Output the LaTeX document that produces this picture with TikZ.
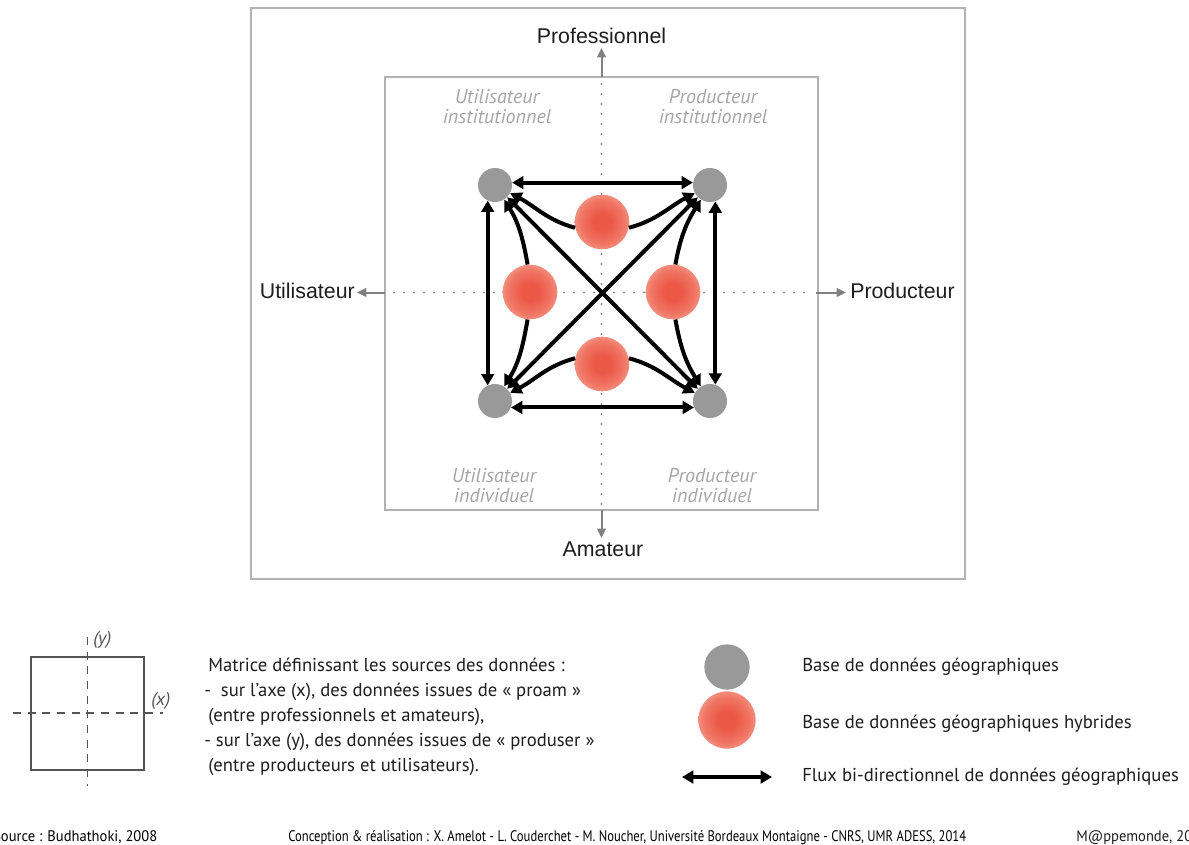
\documentclass[tikz,border=0pt]{standalone}
\usepackage{fontspec}
\setmainfont{PT Sans}
\newfontfamily\arialf{Liberation Sans}
\usetikzlibrary{arrows.meta}
\definecolor{boxgray}{RGB}{178,178,178}
\definecolor{nodegray}{RGB}{153,153,153}
\definecolor{axisgray}{RGB}{128,128,128}
\definecolor{dotgray}{RGB}{140,140,140}
\definecolor{labelgray}{RGB}{165,165,165}
\definecolor{blobc}{RGB}{236,88,70}
\definecolor{blobn}{RGB}{240,118,100}
\definecolor{blobm}{RGB}{246,165,150}
\definecolor{blobo}{RGB}{252,225,220}
\definecolor{textc}{RGB}{30,30,30}
\definecolor{legline}{RGB}{85,85,85}
\pgfdeclareradialshading{blob}{\pgfpoint{0bp}{0bp}}{color(0bp)=(blobc); color(8bp)=(blobc); color(20bp)=(blobn); color(30bp)=(blobm); color(39bp)=(blobo); color(47bp)=(white); color(70bp)=(white)}
\newsavebox\footbox
\newsavebox\footboxl
\newcommand\twoln[2]{\vtop{\baselineskip=15pt\lineskiplimit=-10pt\halign{\hfil##\hfil\cr#1\cr#2\cr}}}
\newcommand\footfont{\fontsize{11.5pt}{13pt}\selectfont}
\begin{document}
\sbox\footbox{\footfont Conception \& réalisation : X. Amelot - L. Couderchet - M. Noucher, Université Bordeaux Montaigne - CNRS, UMR ADESS, 2014}%
\sbox\footboxl{\footfont Source : Budhathoki, 2008}%
\pgfmathsetmacro\footsc{508.5pt/\wd\footbox}%
\pgfmathsetmacro\footscl{123pt/\wd\footboxl}%
\begin{tikzpicture}[x=0.75pt,y=0.75pt,
  frame/.style={draw=boxgray, line width=1.1pt},
  db/.style={circle, fill=nodegray, minimum size=25.5pt, inner sep=0pt},
  hyb/.style={circle, shade, shading=blob, minimum size=41pt, inner sep=0pt},
  tipk/.tip={Triangle[length=8.5pt,width=9.5pt]},
  flux/.style={line width=3pt, tipk-tipk},
  feed/.style={line width=3pt, -tipk},
  axdot/.style={dotgray, line width=1.8pt, line cap=round, dash pattern=on 0pt off 7.5pt},
  axarrow/.style={axisgray, line width=1.5pt, -{Triangle[length=7pt,width=6.5pt]}},
  title/.style={font=\arialf\fontsize{16pt}{18pt}\selectfont, text=textc, inner sep=0pt},
  quad/.style={font=\itshape\fontsize{15pt}{15pt}\selectfont, text=labelgray, inner sep=0pt, anchor=base},
  legtxt/.style={font=\fontsize{14pt}{17pt}\selectfont, text=textc, inner sep=0pt, anchor=base west},
  foot/.style={text=textc, inner sep=0pt, anchor=base west},
  legdash/.style={legline, line width=1pt, dash pattern=on 6pt off 5pt}
]
\path[use as bounding box] (0,0) rectangle (1189,-844);
\clip (0,0) rectangle (1189,-844);
\fill[white] (0,0) rectangle (1189,-844);

% frames
\draw[frame] (251,-8) rectangle (965,-579);
\draw[frame] (385,-77) rectangle (818,-510);

% axes
\draw[axdot] (601.5,-84) -- (601.5,-505);
\draw[axdot] (394,-292.5) -- (812,-292.5);
\coordinate (vt0) at (601.5,-77);
\coordinate (vt1) at (601.5,-48);
\coordinate (vb0) at (601.5,-510);
\coordinate (vb1) at (601.5,-538);
\coordinate (hl0) at (385,-292.5);
\coordinate (hl1) at (357,-292.5);
\coordinate (hr0) at (816,-292.5);
\coordinate (hr1) at (846,-292.5);
\draw[axarrow] (vt0) -- (vt1);
\draw[axarrow] (vb0) -- (vb1);
\draw[axarrow] (hl0) -- (hl1);
\draw[axarrow] (hr0) -- (hr1);

\node[title, anchor=base] (prof) at (601.5,-43.5) {Professionnel};
\node[title, anchor=base] (amat) at (603,-556.5) {Amateur};
\node[title, anchor=base east] (util) at (355,-298) {Utilisateur};
\node[title, anchor=base west] (prod) at (850,-298) {Producteur};

\node[quad] (qtl) at (497,-103) {\twoln{Utilisateur}{institutionnel}};
\node[quad] (qtr) at (713,-103) {\twoln{Producteur}{institutionnel}};
\node[quad] (qbl) at (494,-482) {\twoln{Utilisateur}{individuel}};
\node[quad] (qbr) at (712,-482) {\twoln{Producteur}{individuel}};

% databases
\node[db] (tl) at (495,-185) {};
\node[db] (tr) at (710,-185) {};
\node[db] (bl) at (495,-401) {};
\node[db] (br) at (710,-401) {};
\node[hyb] (tb) at (602,-222) {};
\node[hyb] (lb) at (530,-292) {};
\node[hyb] (rb) at (673,-292) {};
\node[hyb] (bb) at (602,-364) {};

% flows
\draw[flux] (tl.8) -- (tr.172);
\draw[flux] (bl.-22) -- (br.-158);
\draw[flux] (tl.-115) -- (bl.115);
\draw[flux] (tr.-72) -- (br.72);
\draw[flux] (tl.-45) -- (br.135);
\draw[flux] (tr.-135) -- (bl.45);

\draw[feed] (tb.192) to[out=165,in=-28] (tl);
\draw[feed] (tb.-12) to[out=15,in=208] (tr);
\draw[feed] (lb.95) to[out=100,in=-58] (tl);
\draw[feed] (lb.265) to[out=260,in=58] (bl);
\draw[feed] (rb.85) to[out=80,in=238] (tr);
\draw[feed] (rb.275) to[out=280,in=122] (br);
\draw[feed] (bb.168) to[out=195,in=28] (bl);
\draw[feed] (bb.12) to[out=-15,in=152] (br);

% small matrix legend
\draw[legline, line width=1.1pt] (31,-657) rectangle (144,-770);
\coordinate (ly0) at (87.5,-637);
\coordinate (ly1) at (87.5,-786);
\coordinate (lx0) at (13,-713);
\coordinate (lx1) at (163,-713);
\draw[legdash] (ly0) -- (ly1);
\draw[legdash] (lx0) -- (lx1);
\node[font=\itshape\fontsize{14pt}{16pt}\selectfont, text=legline, inner sep=0pt, anchor=west] (ylab) at (93,-640) {(y)};
\node[font=\itshape\fontsize{14pt}{16pt}\selectfont, text=legline, inner sep=0pt, anchor=west] (xlab) at (151,-701) {(x)};

\node[legtxt] (m1) at (208,-671) {Matrice définissant les sources des données :};
\node[legtxt] (m2) at (204,-696) {-\ \ sur l’axe (x), des données issues de « proam »};
\node[legtxt] (m3) at (208,-721) {(entre professionnels et amateurs),};
\node[legtxt] (m4) at (204,-746) {- sur l’axe (y), des données issues de « produser »};
\node[legtxt] (m5) at (208,-771) {(entre producteurs et utilisateurs).};

% symbol legend
\node[db, minimum size=34pt] (lgdb) at (727,-667) {};
\node[hyb, minimum size=43pt] (lghy) at (727,-720) {};
\coordinate (la0) at (682,-777);
\coordinate (la1) at (772,-777);
\draw[flux] (la0) -- (la1);
\node[legtxt] (t1) at (802,-671) {Base de données géographiques};
\node[legtxt] (t2) at (802,-728) {Base de données géographiques hybrides};
\node[legtxt] (t3) at (802,-781) {Flux bi-directionnel de données géographiques};

% footer
\node[foot] (f1) at (-7,-841) {\scalebox{\footscl}[1]{\usebox\footboxl}};
\node[foot] (f2) at (288,-841) {\scalebox{\footsc}[1]{\usebox\footbox}};
\node[foot] (f3) at (1076,-841) {\scalebox{\footscl}[1]{\footfont M@ppemonde, 2014}};
\end{tikzpicture}
\end{document}
